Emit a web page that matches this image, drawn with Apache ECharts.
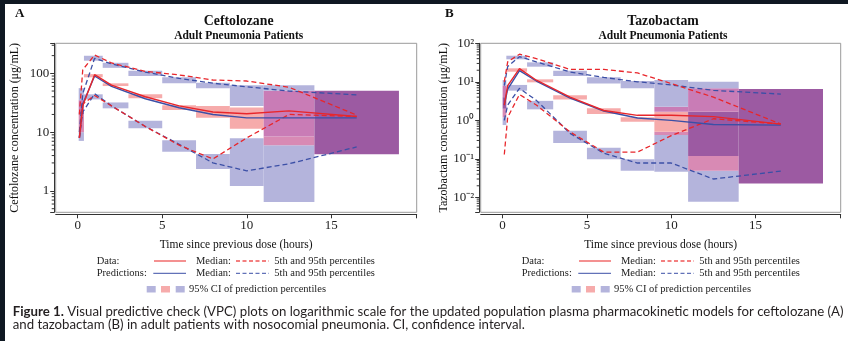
<!DOCTYPE html>
<html>
<head>
<meta charset="utf-8">
<script src="https://cdn.jsdelivr.net/npm/echarts@6/dist/echarts.min.js"></script>
<style>
  html, body { margin: 0; padding: 0; background: #ffffff; }
  #chart { width: 848px; height: 341px; }
</style>
</head>
<body>
<div id="chart"></div>
<script>
// Sampling times (h) of the binned VPC percentile curves
const time = [0.1, 0.3, 1, 2, 4, 6, 8, 10, 12.5, 16.5];

// Ceftolozane (µg/mL)
const cefObsMedian = [8, 28, 95, 63, 40, 28, 22, 20.5, 23, 18.5];
const cefPredMedian = [8, 30, 90, 60, 37, 26, 20, 17.5, 17.5, 17.5];
const cefObsP95 = [20, 115, 205, 150, 108, 94, 77, 74, 58, 19.5];
const cefPredP95 = [10, 45, 180, 145, 105, 82, 68, 59, 50, 43];
const cefObsP5 = [8, 30, 42, 28, 12.5, 6, 3.5, 8, 20, 18.5];
const cefPredP5 = [8, 22, 45, 28, 12.5, 6.2, 3.0, 2.2, 2.9, 5.6];

// Tazobactam (µg/mL)
const tazObsMedian = [2.5, 8, 22, 11, 4.0, 1.8, 1.35, 1.35, 1.25, 0.8];
const tazPredMedian = [2.5, 6.5, 19.5, 10.5, 3.8, 1.75, 1.15, 1.0, 0.78, 0.75];
const tazObsP95 = [10, 33, 52, 40, 21, 21, 17, 9, 4, 0.8];
const tazPredP95 = [8, 25, 45, 33, 18, 13, 10, 8.3, 6, 4.8];
const tazObsP5 = [0.13, 1.2, 4.7, 2.5, 0.5, 0.15, 0.15, 0.4, 1.1, 0.8];
const tazPredP5 = [1.0, 2.5, 6.8, 3.3, 0.46, 0.14, 0.078, 0.078, 0.03, 0.048];

// Time bins [start, end] (h)
const cefBins = [[0.06, 0.37], [0.37, 1.48], [1.48, 3], [3, 5], [5, 7], [7, 9], [9, 11], [11, 14], [14, 19]];
const tazBins = [[0.0, 0.22], [0.22, 1.45], [1.45, 3], [3, 5], [5, 7], [7, 9], [9, 11], [11, 14], [14, 19]];

// 95% CI [low, high] of the predicted 95th percentile, median and 5th percentile per bin
const cefCiP95 = [[20, 56], [164, 199], [124, 151], [90, 111], [67.6, 85.5], [55.6, 69], [27.8, 63], [8.4, 63], [4.2, 50.6]];
const cefCiMed = [[10, 35], [85.5, 97], [60.8, 67.6], [37.6, 44], [23.8, 28.6], [17.6, 27.8], [11.4, 26.3], [6.0, 50.6], [4.2, 50.6]];
const cefCiP5 = [[7.1, 22], [36, 44], [25.4, 32], [11.7, 15.6], [4.65, 7.3], [2.36, 4.25], [1.21, 7.85], [0.65, 8.4], [4.2, 50.6]];

const tazCiP95 = [[2, 11.1], [38.4, 47.6], [24.7, 32], [14.1, 19.4], [9.1, 13.1], [6.8, 10.5], [1.67, 11.1], [0.118, 10.1], [0.023, 6.5]];
const tazCiMed = [[1.2, 8], [18.3, 22.4], [9.7, 11.6], [3.5, 4.5], [1.46, 2.05], [0.92, 1.2], [0.415, 2.25], [0.049, 6.8], [0.023, 6.5]];
const tazCiP5 = [[0.755, 4], [5.9, 8.3], [1.93, 3.2], [0.26, 0.54], [0.098, 0.195], [0.049, 0.098], [0.046, 0.506], [0.0077, 1.67], [0.023, 6.5]];

// Axis tick values
const xTickValues = [0, 5, 10, 15, 20];
const xLabelValues = [0, 5, 10, 15];
const cefMinorTicks = [0.5, 0.6, 0.7, 0.8, 0.9, 2, 3, 4, 5, 6, 7, 8, 9, 20, 30, 40, 50, 60, 70, 80, 90, 200, 300];
const tazMinorTicks = [0.005, 0.006, 0.007, 0.008, 0.009, 0.02, 0.03, 0.04, 0.05, 0.06, 0.07, 0.08, 0.09,
  0.2, 0.3, 0.4, 0.5, 0.6, 0.7, 0.8, 0.9, 2, 3, 4, 5, 6, 7, 8, 9, 20, 30, 40, 50, 60, 70, 80, 90];
const tazSup = { '-2': '⁻²', '-1': '⁻¹', '0': '⁰', '1': '¹', '2': '²' };

const SERIF = '"Liberation Serif", "Times New Roman", Times, serif';
const RED = '#e8262b';
const BLUE = '#3b4fa6';
const X_MIN = -1.3, X_MAX = 20.05;

// Fill for each overlap pattern of the three CI boxes (P95, median, P5)
const overlapFill = {
  '100': '#b4b4dc', '001': '#b4b4dc', '010': '#f6abab',
  '110': '#c97cb6', '011': '#d88ab4', '101': '#9d9dd0', '111': '#9c5aa2'
};

const chart = echarts.init(document.getElementById('chart'), null, { renderer: 'canvas' });

function binData(bins, p95, med, p5) {
  return bins.map((b, i) => [b[0], b[1], p95[i][0], p95[i][1], med[i][0], med[i][1], p5[i][0], p5[i][1]]);
}

function renderBin(params, api) {
  const x0 = api.value(0), x1 = api.value(1);
  const boxes = [[api.value(2), api.value(3)], [api.value(4), api.value(5)], [api.value(6), api.value(7)]];
  const cuts = Array.from(new Set(boxes.flat())).sort((a, b) => a - b);
  const children = [];
  for (let i = 0; i < cuts.length - 1; i++) {
    const lo = cuts[i], hi = cuts[i + 1];
    const mid = Math.sqrt(lo * hi);
    const key = boxes.map(([a, b]) => (mid > a && mid < b ? '1' : '0')).join('');
    if (key === '000') continue;
    const pTop = api.coord([x0, hi]);
    const pBot = api.coord([x1, lo]);
    children.push({
      type: 'rect',
      shape: { x: pTop[0], y: pTop[1], width: pBot[0] - pTop[0], height: pBot[1] - pTop[1] },
      style: { fill: overlapFill[key] }
    });
  }
  return { type: 'group', children };
}

function renderMinorTick(params, api) {
  const p = api.coord([api.value(0), api.value(1)]);
  const x = p[0] - 1.5;
  return { type: 'line', shape: { x1: x - 2.5, y1: p[1], x2: x, y2: p[1] }, style: { stroke: '#333', lineWidth: 1 } };
}

function pts(ys) { return time.map((t, i) => [t, ys[i]]); }

function curve(gi, ys, color, dashed, z) {
  return {
    type: 'line', xAxisIndex: gi, yAxisIndex: gi, data: pts(ys),
    symbol: 'none', silent: true, z: z,
    lineStyle: { color: color, width: dashed ? 1.3 : 1.4, type: dashed ? [5, 3] : 'solid' }
  };
}

function xAxisFor(gi) {
  return {
    gridIndex: gi, type: 'value', min: X_MIN, max: X_MAX, offset: 2,
    name: 'Time since previous dose (hours)', nameLocation: 'middle', nameGap: 25,
    nameTextStyle: { fontFamily: SERIF, fontSize: 11.5, color: '#111' },
    axisLine: { show: true, onZero: false, lineStyle: { color: '#333', width: 1 } },
    axisTick: { show: true, length: 4, customValues: xTickValues, lineStyle: { color: '#333' } },
    axisLabel: { customValues: xLabelValues, fontFamily: SERIF, fontSize: 13, color: '#222', margin: 5 },
    splitLine: { show: false }
  };
}

function yAxisFor(gi, min, max, name, fmt, nameGap) {
  return {
    gridIndex: gi, type: 'log', logBase: 10, min: min, max: max, offset: 1.5,
    name: name, nameLocation: 'middle', nameGap: nameGap,
    nameTextStyle: { fontFamily: SERIF, fontSize: 12, color: '#111' },
    axisLine: { show: true, onZero: false, lineStyle: { color: '#333', width: 1 } },
    axisTick: { show: true, length: 4, lineStyle: { color: '#333' } },
    axisLabel: {
      fontFamily: SERIF, fontSize: 13, color: '#222', margin: 5,
      showMinLabel: true, showMaxLabel: true,
      formatter: function (v) {
        const e = Math.log10(v);
        const r = Math.round(e);
        return Math.abs(e - r) < 1e-6 ? fmt(r) : '';
      }
    },
    splitLine: { show: false }
  };
}

const grids = [
  { left: 55.7, top: 43.3, width: 361, height: 169, show: true, borderColor: '#9a9a9a', borderWidth: 1, backgroundColor: 'transparent' },
  { left: 480.7, top: 43.3, width: 360, height: 169, show: true, borderColor: '#9a9a9a', borderWidth: 1, backgroundColor: 'transparent' }
];

const series = [];
[
  { gi: 0, bins: binData(cefBins, cefCiP95, cefCiMed, cefCiP5), minor: cefMinorTicks,
    lines: [cefPredP95, cefPredP5, cefObsP95, cefObsP5, cefPredMedian, cefObsMedian] },
  { gi: 1, bins: binData(tazBins, tazCiP95, tazCiMed, tazCiP5), minor: tazMinorTicks,
    lines: [tazPredP95, tazPredP5, tazObsP95, tazObsP5, tazPredMedian, tazObsMedian] }
].forEach(p => {
  series.push({ type: 'custom', xAxisIndex: p.gi, yAxisIndex: p.gi, data: p.bins, renderItem: renderBin, silent: true, z: 1 });
  series.push({ type: 'custom', xAxisIndex: p.gi, yAxisIndex: p.gi, data: p.minor.map(v => [X_MIN, v]), renderItem: renderMinorTick, clip: false, silent: true, z: 1 });
  series.push(curve(p.gi, p.lines[0], BLUE, true, 3));
  series.push(curve(p.gi, p.lines[1], BLUE, true, 3));
  series.push(curve(p.gi, p.lines[2], RED, true, 4));
  series.push(curve(p.gi, p.lines[3], RED, true, 4));
  series.push(curve(p.gi, p.lines[4], BLUE, false, 5));
  series.push(curve(p.gi, p.lines[5], RED, false, 6));
});

// Legend block under each panel
function legendBlock(dx) {
  const fs = 10.5;
  const txt = (x, y, s) => ({ type: 'text', x: x + dx, y: y, style: { text: s, fontFamily: SERIF, fontSize: fs, fill: '#222', verticalAlign: 'middle', align: 'left' } });
  const seg = (x1, x2, y, color, dash) => ({ type: 'line', shape: { x1: x1 + dx, y1: y, x2: x2 + dx, y2: y }, style: { stroke: color, lineWidth: 1.3, lineDash: dash ? [4, 2.5] : null } });
  const box = (x, color) => ({ type: 'rect', shape: { x: x + dx, y: 286, width: 9, height: 6.5 }, style: { fill: color } });
  return [
    txt(96.7, 261, 'Data:'), seg(154, 186, 261, '#ef5555', false), txt(196, 261, 'Median:'),
    seg(236, 269, 261, '#ef5555', true), txt(274.3, 261, '5th and 95th percentiles'),
    txt(96.7, 273.3, 'Predictions:'), seg(153.3, 186, 273.3, '#6272b8', false), txt(196, 273.3, 'Median:'),
    seg(236, 269, 273.3, '#6272b8', true), txt(274.3, 273.3, '5th and 95th percentiles'),
    box(146.7, overlapFill['100']), box(161, overlapFill['010']), box(175.7, overlapFill['001']),
    txt(189, 289, '95% CI of prediction percentiles')
  ];
}

// Caption sized to span the page width
const captionBold = 'Figure 1.';
const captionRest1 = ' Visual predictive check (VPC) plots on logarithmic scale for the updated population plasma pharmacokinetic models for ceftolozane (A)';
const captionLine2 = 'and tazobactam (B) in adult patients with nosocomial pneumonia. CI, confidence interval.';
const CAP_FONT = 'Lato, "Open Sans", sans-serif';
const mctx = document.createElement('canvas').getContext('2d');
function measure(font, s) { mctx.font = font; return mctx.measureText(s).width; }
let capSize = 12;
const w1 = measure('bold ' + capSize + 'px ' + CAP_FONT, captionBold) + measure(capSize + 'px ' + CAP_FONT, captionRest1);
capSize = capSize * 831 / w1;

const graphics = [
  { type: 'rect', shape: { x: 0, y: 0, width: 848, height: 4 }, style: { fill: '#0f1822' }, z: 10 },
  { type: 'rect', shape: { x: 0, y: 0, width: 5, height: 341 }, style: { fill: '#0f1822' }, z: 10 },
  { type: 'text', x: 15, y: 14, style: { text: 'A', fontFamily: SERIF, fontWeight: 'bold', fontSize: 13, fill: '#111', verticalAlign: 'middle' } },
  { type: 'text', x: 445, y: 14, style: { text: 'B', fontFamily: SERIF, fontWeight: 'bold', fontSize: 13, fill: '#111', verticalAlign: 'middle' } },
  { type: 'text', x: 238.7, y: 21, style: { text: 'Ceftolozane', fontFamily: SERIF, fontWeight: 'bold', fontSize: 13.8, fill: '#111', align: 'center', verticalAlign: 'middle' } },
  { type: 'text', x: 238.7, y: 35.7, style: { text: 'Adult Pneumonia Patients', fontFamily: SERIF, fontWeight: 'bold', fontSize: 11.5, fill: '#111', align: 'center', verticalAlign: 'middle' } },
  { type: 'text', x: 663, y: 21, style: { text: 'Tazobactam', fontFamily: SERIF, fontWeight: 'bold', fontSize: 13.8, fill: '#111', align: 'center', verticalAlign: 'middle' } },
  { type: 'text', x: 663, y: 35.7, style: { text: 'Adult Pneumonia Patients', fontFamily: SERIF, fontWeight: 'bold', fontSize: 11.5, fill: '#111', align: 'center', verticalAlign: 'middle' } },
  { type: 'text', x: 12.7, y: 311.7, style: {
      text: '{b|' + captionBold + '}' + captionRest1, fontFamily: CAP_FONT, fontSize: capSize, fill: '#231f20', verticalAlign: 'middle',
      rich: { b: { fontFamily: CAP_FONT, fontWeight: 'bold', fontSize: capSize, fill: '#231f20' } } } },
  { type: 'text', x: 12.7, y: 324.3, style: { text: captionLine2, fontFamily: CAP_FONT, fontSize: capSize, fill: '#231f20', verticalAlign: 'middle' } }
].concat(legendBlock(0), legendBlock(425));

chart.setOption({
  animation: false,
  backgroundColor: '#ffffff',
  grid: grids,
  xAxis: [xAxisFor(0), xAxisFor(1)],
  yAxis: [
    yAxisFor(0, 0.434, 324, 'Ceftolozane concentration (μg/mL)', r => String(Math.pow(10, r)), 33),
    yAxisFor(1, 0.0041, 100, 'Tazobactam concentration (μg/mL)', r => '10' + tazSup[String(r)], 26)
  ],
  series: series,
  graphic: graphics
});
</script>
</body>
</html>
